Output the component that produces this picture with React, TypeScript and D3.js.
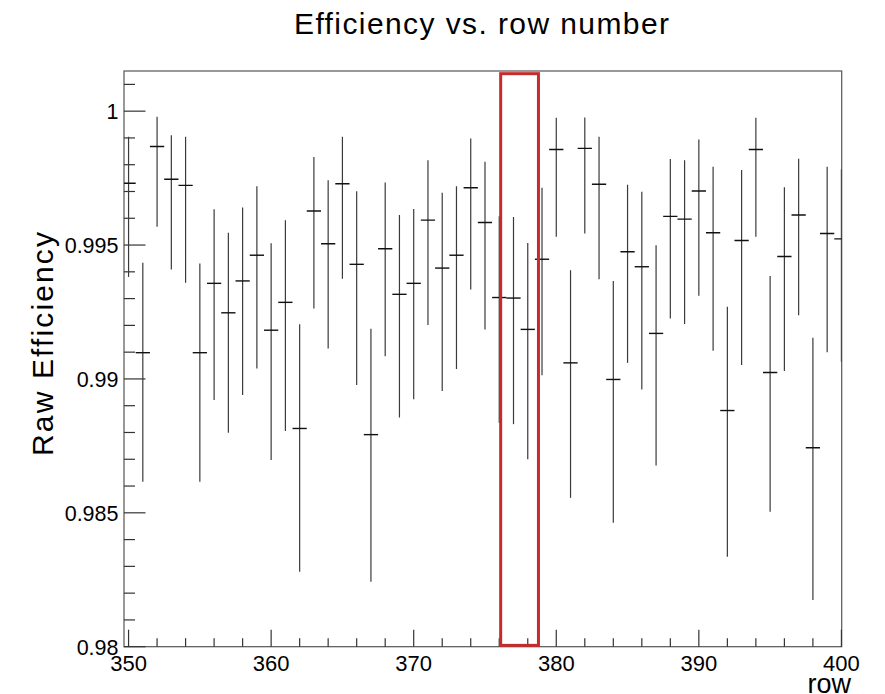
import React from "react";
import * as d3 from "d3";

// ---- data ----
const rows: number[] = [
  350, 351, 352, 353, 354, 355, 356, 357, 358, 359,
  360, 361, 362, 363, 364, 365, 366, 367, 368, 369,
  370, 371, 372, 373, 374, 375, 376, 377, 378, 379,
  380, 381, 382, 383, 384, 385, 386, 387, 388, 389,
  390, 391, 392, 393, 394, 395, 396, 397, 398, 399, 400,
];
const efficiency: number[] = [
  0.99731, 0.99098, 0.99868, 0.99746, 0.99723, 0.99098, 0.99357, 0.99247, 0.99366, 0.99462,
  0.99182, 0.99286, 0.98815, 0.99627, 0.99505, 0.99729, 0.99428, 0.98792, 0.99486, 0.99316,
  0.99357, 0.99593, 0.99414, 0.99462, 0.99714, 0.99584, 0.99304, 0.99302, 0.99185, 0.99447,
  0.99857, 0.9906, 0.99861, 0.99727, 0.98998, 0.99475, 0.99419, 0.9917, 0.99607, 0.99597,
  0.99702, 0.99546, 0.98882, 0.99517, 0.99857, 0.99024, 0.99457, 0.99612, 0.98743, 0.99543, 0.99523,
];
const upperBound: number[] = [
  0.99904, 0.99434, 0.99979, 0.9991, 0.99904, 0.99431, 0.99634, 0.99546, 0.9964, 0.9972,
  0.99507, 0.99593, 0.99204, 0.99829, 0.99742, 0.99904, 0.99701, 0.99187, 0.99734, 0.99612,
  0.99635, 0.99817, 0.99695, 0.9972, 0.99898, 0.99811, 0.99608, 0.99605, 0.99508, 0.99714,
  0.99975, 0.99406, 0.99976, 0.99904, 0.99366, 0.99725, 0.99699, 0.99499, 0.99821, 0.99817,
  0.99894, 0.99792, 0.9927, 0.9978, 0.99975, 0.99384, 0.99716, 0.99822, 0.99154, 0.99792, 0.99783,
];
const lowerBound: number[] = [
  0.99381, 0.98616, 0.99568, 0.99409, 0.99359, 0.98616, 0.98921, 0.98799, 0.9894, 0.99039,
  0.98697, 0.98806, 0.9828, 0.99263, 0.99114, 0.99374, 0.98977, 0.98243, 0.99085, 0.98856,
  0.98924, 0.99201, 0.98955, 0.99037, 0.99334, 0.99185, 0.98836, 0.98831, 0.987, 0.99014,
  0.99531, 0.98556, 0.99543, 0.99372, 0.98463, 0.9906, 0.98961, 0.98677, 0.99226, 0.99205,
  0.99311, 0.99105, 0.98336, 0.99052, 0.99531, 0.98504, 0.9903, 0.99238, 0.98174, 0.991, 0.99064,
];
const rowHalfWidth = 0.5;

const xDomain: [number, number] = [349.68, 400.02];
const yDomain: [number, number] = [0.98, 1.0015];
const xMajorTicks: number[] = [350, 360, 370, 380, 390, 400];
const xTickLabels: string[] = ["350", "360", "370", "380", "390", "400"];
const yMajorTicks: number[] = [0.98, 0.985, 0.99, 0.995, 1.0];
const yTickLabels: string[] = ["0.98", "0.985", "0.99", "0.995", "1"];
const xMinorStep = 2;
const yMinorStep = 0.001;

const highlightRows: [number, number] = [376.1, 378.75];
const highlightEff: [number, number] = [0.98005, 1.0014];

const title = "Efficiency vs. row number";
const yTitle = "Raw Efficiency";
const xTitle = "row";

export default function App() {
  const W = 885;
  const H = 694;
  const left = 124;
  const right = 841.7;
  const top = 71;
  const bottom = 646.7;

  const x = d3.scaleLinear().domain(xDomain).range([left, right]);
  const y = d3.scaleLinear().domain(yDomain).range([bottom, top]);

  const xMinor = d3.range(350, 400.001, xMinorStep).filter((v) => !xMajorTicks.includes(v));
  const yMinor = d3
    .range(0, 22)
    .map((i) => +(0.98 + i * yMinorStep).toFixed(4))
    .filter((v) => v <= yDomain[1] && !yMajorTicks.some((m) => Math.abs(m - v) < 1e-9));

  const font = "'Liberation Sans', Arial, Helvetica, sans-serif";
  const axisColor = "#555";

  return (
    <svg
      width={W}
      height={H}
      style={{ position: "absolute", left: 0, top: 0, background: "#fff" }}
      fontFamily={font}
    >
      <rect x={0} y={0} width={W} height={H} fill="#fff" />
      <defs>
        <clipPath id="frameClip">
          <rect x={left} y={top} width={right - left} height={bottom - top} />
        </clipPath>
      </defs>

      {/* title */}
      <text
        x={481.5}
        y={33.5}
        fontSize={30}
        textAnchor="middle"
        textLength={375}
        lengthAdjust="spacing"
        fill="#000"
      >
        {title}
      </text>

      {/* frame */}
      <rect x={left} y={top} width={right - left} height={bottom - top} fill="none" stroke={axisColor} strokeWidth={1.2} />

      {/* y ticks */}
      {yMajorTicks.map((t) => (
        <line key={"ym" + t} x1={left} x2={left + 21.5} y1={y(t)} y2={y(t)} stroke="#333" strokeWidth={1.2} />
      ))}
      {yMinor.map((t) => (
        <line key={"yn" + t} x1={left} x2={left + 11} y1={y(t)} y2={y(t)} stroke="#333" strokeWidth={1.2} />
      ))}
      {yMajorTicks.map((t, i) => (
        <text key={"yl" + t} x={118.5} y={y(t) + 8} fontSize={21.5} textAnchor="end" fill="#000">
          {yTickLabels[i]}
        </text>
      ))}

      {/* x ticks */}
      {xMajorTicks.map((t) => (
        <line key={"xm" + t} x1={x(t)} x2={x(t)} y1={bottom} y2={bottom - 17} stroke="#333" strokeWidth={1.2} />
      ))}
      {xMinor.map((t) => (
        <line key={"xn" + t} x1={x(t)} x2={x(t)} y1={bottom} y2={bottom - 8.5} stroke="#333" strokeWidth={1.2} />
      ))}
      {xMajorTicks.map((t, i) => (
        <text key={"xl" + t} x={x(t)} y={670.5} fontSize={22} textAnchor="middle" fill="#000">
          {xTickLabels[i]}
        </text>
      ))}

      {/* axis titles */}
      <text
        transform={`translate(53, 344) rotate(-90)`}
        fontSize={30}
        textAnchor="middle"
        textLength={224}
        lengthAdjust="spacing"
        fill="#000"
      >
        {yTitle}
      </text>
      <text x={851} y={693} fontSize={27} textAnchor="end" fill="#000">
        {xTitle}
      </text>

      {/* data */}
      <g clipPath="url(#frameClip)">
        {rows.map((r, i) => (
          <g key={"p" + r}>
            <line
              x1={x(r)}
              x2={x(r)}
              y1={y(upperBound[i])}
              y2={y(lowerBound[i])}
              stroke="#3a3a3a"
              strokeWidth={1.2}
            />
            <line
              x1={x(r - rowHalfWidth)}
              x2={x(r + rowHalfWidth)}
              y1={y(efficiency[i])}
              y2={y(efficiency[i])}
              stroke="#111"
              strokeWidth={1.4}
            />
          </g>
        ))}
      </g>

      {/* highlight box */}
      <rect
        x={x(highlightRows[0])}
        y={y(highlightEff[1])}
        width={x(highlightRows[1]) - x(highlightRows[0])}
        height={y(highlightEff[0]) - y(highlightEff[1])}
        fill="none"
        stroke="#c62a2a"
        strokeWidth={3}
      />
    </svg>
  );
}
